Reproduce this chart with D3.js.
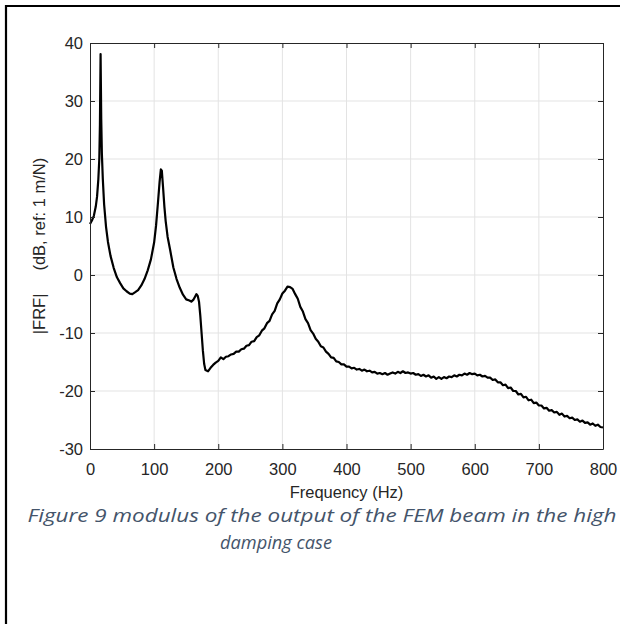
<!DOCTYPE html>
<html>
<head>
<meta charset="utf-8">
<script src="https://cdn.jsdelivr.net/npm/d3@7"></script>
<style>
  html, body { margin: 0; padding: 0; background: #fff; }
  svg { display: block; }
</style>
</head>
<body>
<svg id="chart" width="620" height="624"></svg>
<script>
// ---- data ----
const freqHz = [0,3,6,9,11,13,14.5,15.5,16.5,17.5,18.5,20,22,25,28,32,37,42,47,52,57,62,66,70,75,80,85,90,95,100,103,106,108.5,110.5,112,114,116,118,121,125,130,135,140,145,150,155,158,161,164,166,168,170,172,174,176,178,180,
  184,188,192,196,200,204,208,212,216,220,224,228,232,236,240,244,248,252,256,260,264,268,272,276,280,284,288,292,296,300,
  304,308,312,316,320,324,328,332,336,340,344,348,352,356,360,364,368,372,376,380,384,388,392,396,400,
  404,408,412,416,420,424,428,432,436,440,444,448,452,456,460,464,468,472,476,480,484,488,492,496,500,
  504,508,512,516,520,524,528,532,536,540,544,548,552,556,560,564,568,572,576,580,584,588,592,596,600,
  604,608,612,616,620,624,628,632,636,640,644,648,652,656,660,664,668,672,676,680,684,688,692,696,700,
  704,708,712,716,720,724,728,732,736,740,744,748,752,756,760,764,768,772,776,780,784,788,792,796,800];
const frfDb = [8.8,9.4,10.2,11.8,13.5,16.5,20,26,38.1,27,21,16.5,12.2,8.3,5.7,3.3,1.2,-0.4,-1.4,-2.3,-2.8,-3.2,-3.3,-3.0,-2.6,-1.8,-0.7,0.8,2.7,5.6,8.5,12.5,16.0,18.2,18.0,15.0,11.8,9.3,6.6,4.3,1.3,-0.7,-2.2,-3.4,-4.2,-4.4,-4.6,-4.3,-3.7,-3.3,-3.6,-4.6,-7.0,-10.0,-13.0,-15.3,-16.4,
  -16.6,-16.0,-15.5,-15.1,-14.8,-14.2,-14.5,-14.1,-14.0,-13.7,-13.6,-13.2,-13.2,-12.8,-12.7,-12.2,-12.1,-11.5,-11.4,-10.7,-10.4,-9.6,-9.2,-8.3,-7.9,-6.8,-6.2,-4.9,-4.2,-3.2,
  -2.7,-2.0,-2.1,-2.4,-3.3,-4.1,-5.5,-6.3,-7.6,-8.3,-9.5,-10.1,-11.0,-11.5,-12.3,-12.5,-13.2,-13.6,-14.2,-14.3,-14.9,-15.0,-15.4,-15.4,-15.8,
  -15.8,-16.1,-16.0,-16.3,-16.2,-16.5,-16.3,-16.6,-16.5,-16.8,-16.7,-17.0,-16.9,-17.1,-16.9,-17.2,-17.0,-16.8,-17.0,-16.7,-16.9,-16.6,-16.9,-16.8,-17.0,
  -16.9,-17.2,-17.1,-17.4,-17.2,-17.5,-17.3,-17.7,-17.5,-17.9,-17.6,-17.9,-17.6,-17.8,-17.5,-17.6,-17.3,-17.5,-17.2,-17.3,-17.0,-17.2,-16.9,-17.1,-17.0,
  -17.3,-17.2,-17.5,-17.4,-17.7,-17.7,-18.1,-18.0,-18.5,-18.5,-19.0,-18.9,-19.5,-19.4,-20.0,-20.0,-20.6,-20.5,-21.1,-21.0,-21.6,-21.5,-22.1,-22.0,-22.5,
  -22.5,-23.0,-22.9,-23.4,-23.3,-23.7,-23.6,-24.1,-23.9,-24.4,-24.3,-24.7,-24.6,-25.0,-24.9,-25.3,-25.1,-25.5,-25.4,-25.8,-25.6,-26.0,-25.8,-26.2,-26.3];
const xTicks = [0,100,200,300,400,500,600,700,800];
const yTicks = [-30,-20,-10,0,10,20,30,40];
const xLabel = "Frequency (Hz)";
const yLabel = "|FRF|     (dB, ref: 1 m/N)";
const captionLines = ["Figure 9 modulus of the output of the FEM beam in the high", "damping case"];

// ---- layout ----
const svg = d3.select("#chart");
const L = 90, R = 603, T = 43, B = 449;
const axisColor = "#262626";
const font = "'Liberation Sans', Arial, Helvetica, sans-serif";

// page border (document frame)
svg.append("path")
  .attr("d", "M6,630 L6,6 L630,6")
  .attr("fill", "none").attr("stroke", "#000").attr("stroke-width", 2.2);

const x = d3.scaleLinear().domain([0, 800]).range([L, R]);
const y = d3.scaleLinear().domain([-30, 40]).range([B, T]);

// grid
const g = svg.append("g");
g.selectAll(".gx").data(xTicks.slice(1, -1)).join("line")
  .attr("x1", d => x(d)).attr("x2", d => x(d)).attr("y1", T).attr("y2", B)
  .attr("stroke", "#e3e3e3").attr("stroke-width", 1);
g.selectAll(".gy").data(yTicks.slice(1, -1)).join("line")
  .attr("y1", d => y(d)).attr("y2", d => y(d)).attr("x1", L).attr("x2", R)
  .attr("stroke", "#e3e3e3").attr("stroke-width", 1);

// curve
const line = d3.line().x((d, i) => x(freqHz[i])).y(d => y(d)).curve(d3.curveLinear);
svg.append("path").datum(frfDb)
  .attr("d", line)
  .attr("fill", "none").attr("stroke", "#000").attr("stroke-width", 2.2)
  .attr("stroke-linejoin", "round");

// axes with inward ticks on all sides
const tk = 5;
const fmt = d => String(d);
const axB = svg.append("g").attr("transform", `translate(0,${B})`)
  .call(d3.axisBottom(x).tickValues(xTicks).tickSizeInner(-tk).tickSizeOuter(0).tickPadding(12).tickFormat(fmt));
const axT = svg.append("g").attr("transform", `translate(0,${T})`)
  .call(d3.axisTop(x).tickValues(xTicks).tickSizeInner(-tk).tickSizeOuter(0).tickFormat(""));
const axL = svg.append("g").attr("transform", `translate(${L},0)`)
  .call(d3.axisLeft(y).tickValues(yTicks).tickSizeInner(-tk).tickSizeOuter(0).tickPadding(12).tickFormat(fmt));
const axR = svg.append("g").attr("transform", `translate(${R},0)`)
  .call(d3.axisRight(y).tickValues(yTicks).tickSizeInner(-tk).tickSizeOuter(0).tickFormat(""));
[axB, axT, axL, axR].forEach(a => {
  a.select(".domain").attr("stroke", axisColor).attr("stroke-width", 1);
  a.selectAll(".tick line").attr("stroke", axisColor).attr("stroke-width", 1);
  a.selectAll("text").attr("fill", axisColor).style("font-family", font).style("font-size", "16.5px");
});
axL.selectAll("text").attr("x", -7);
axB.selectAll("text").attr("y", 14);

// axis labels
svg.append("text").text(xLabel)
  .attr("x", (L + R) / 2).attr("y", 497.5).attr("text-anchor", "middle")
  .attr("fill", axisColor).style("font-family", font).style("font-size", "16.5px");
svg.append("text").text(yLabel)
  .attr("transform", `translate(45,${(T + B) / 2}) rotate(-90)`).attr("text-anchor", "middle")
  .attr("fill", axisColor).style("font-family", font).style("font-size", "16.5px")
  .style("white-space", "pre");

// caption
svg.append("text").text(captionLines[0])
  .attr("x", 322).attr("y", 522).attr("text-anchor", "middle")
  .attr("fill", "#44546A").style("font-family", "'Open Sans', sans-serif").style("font-style", "italic")
  .style("font-size", "18.5px").attr("textLength", 589).attr("lengthAdjust", "spacingAndGlyphs");
svg.append("text").text(captionLines[1])
  .attr("x", 276).attr("y", 549).attr("text-anchor", "middle")
  .attr("fill", "#44546A").style("font-family", "'Open Sans', sans-serif").style("font-style", "italic")
  .style("font-size", "18.5px").attr("textLength", 112).attr("lengthAdjust", "spacingAndGlyphs");
</script>
</body>
</html>
